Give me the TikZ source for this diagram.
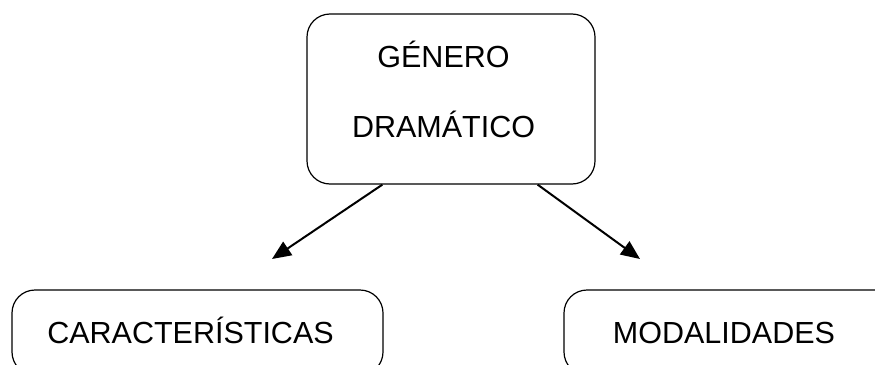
\documentclass[tikz,border=0pt]{standalone}
\usepackage{fontspec}
\setmainfont{Liberation Sans}
\usetikzlibrary{arrows.meta}

\begin{document}
\begin{tikzpicture}[x=1pt,y=-1pt]
    \useasboundingbox (0,0) rectangle (875,364);
    \begin{scope}[every node/.style = {draw, line width=1.2pt, rounded corners=23pt, font=\fontsize{30.5}{70}\selectfont}]
        \node[minimum width=288pt, minimum height=170pt, align=center, text height=78pt, text depth=2pt] (genero) at (451, 99) {GÉNERO\hspace*{15pt}\\DRAMÁTICO\hspace*{15pt}};
        \node[minimum width=371pt, minimum height=85pt, text height=22pt, text depth=0pt] (caract) at (197.5, 332.5) {CARACTERÍSTICAS\hspace*{14pt}};
        \node[minimum width=334pt, minimum height=85pt, text height=22pt, text depth=0pt] (modal) at (731, 332.5) {MODALIDADES\hspace*{14pt}};
    \end{scope}

    \coordinate (izq) at (272, 259);
    \coordinate (der) at (640, 259);

    \begin{scope}[>={Triangle[length=19pt, width=16pt]}, line width=2pt]
        \path [->] ([xshift=76pt]genero.south west) edge (izq);
        \path [->] ([xshift=-58pt]genero.south east) edge (der);
    \end{scope}
\end{tikzpicture}
\end{document}
